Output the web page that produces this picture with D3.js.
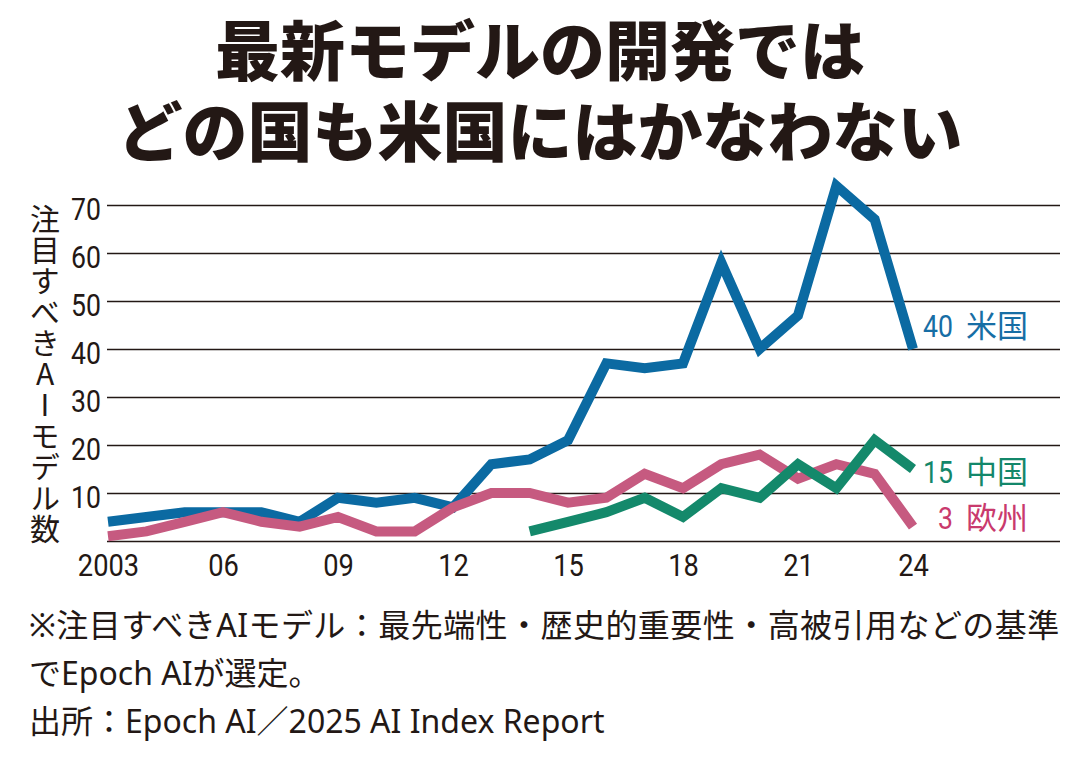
<!DOCTYPE html>
<html>
<head>
<meta charset="utf-8">
<script src="https://cdn.jsdelivr.net/npm/d3@7"></script>
<style>
  html, body { margin: 0; padding: 0; background: #fff; }
  #wrap { position: relative; width: 1080px; height: 759px; }
  svg { display: block; position: absolute; left: 0; top: 0; }
  #title { position: absolute; left: 0; top: 7px; width: 1080px; text-align: center;
           font-family: "Noto Sans CJK JP", sans-serif; font-weight: 900; font-size: 65px;
           line-height: 81px; white-space: pre; color: #231815; }
  .note { font-family: "Noto Sans", "Noto Sans CJK JP", sans-serif; font-size: 32px; fill: #231815; }
  .num { font-family: Roboto, "Liberation Sans", sans-serif; font-size: 31px; }
  .grid line { stroke: #231815; stroke-width: 1.3; }
  .grid text, .xaxis text { font-family: Roboto, "Liberation Sans", sans-serif; font-size: 31px; fill: #231815; }
  .ylabel { font-family: "Noto Sans CJK JP", sans-serif; font-size: 30px; fill: #231815;
            writing-mode: vertical-rl; text-orientation: upright; letter-spacing: 1px; }
  .name { font-family: "Noto Sans CJK JP", sans-serif; font-size: 31px; }
</style>
</head>
<body>
<div id="wrap">
  <svg id="chart" width="1080" height="759"></svg>
  <div id="title"></div>
</div>
<script>
// notable AI models per year (Epoch AI)
var years = [2003, 2004, 2005, 2006, 2007, 2008, 2009, 2010, 2011, 2012, 2013,
             2014, 2015, 2016, 2017, 2018, 2019, 2020, 2021, 2022, 2023, 2024];
var usModels = [4, 5, 6, 6, 6, 4, 9, 8, 9, 7, 16,
                17, 21, 37, 36, 37, 58, 40, 47, 74, 67, 40];
var chinaModels = [null, null, null, null, null, null, null, null, null, null, null,
                   2, 4, 6, 9, 5, 11, 9, 16, 11, 21, 15];
var europeModels = [1, 2, 4, 6, 4, 3, 5, 2, 2, 7, 10,
                    10, 8, 9, 14, 11, 16, 18, 13, 16, 14, 3];

var xTicks = [2003, 2006, 2009, 2012, 2015, 2018, 2021, 2024];
var xTickLabels = ["2003", "06", "09", "12", "15", "18", "21", "24"];
var yTicks = [0, 10, 20, 30, 40, 50, 60, 70];

var titleLines = ["最新モデルの開発では", "どの国も米国にはかなわない"];
var yLabel = "注目すべきAIモデル数";
var notes = [
  "※注目すべきAIモデル：最先端性・歴史的重要性・高被引用などの基準",
  "でEpoch AIが選定。",
  "出所：Epoch AI／2025 AI Index Report"
];

var series = [
  {name: "米国", values: usModels, line: "#0b6aa2", text: "#176ea5", dy: -23},
  {name: "欧州", values: europeModels, line: "#c65a80", text: "#c93a6d", dy: -9},
  {name: "中国", values: chinaModels, line: "#14896b", text: "#13876a", dy: 3}
];

// title: one text block, two lines
d3.select("#title").text(titleLines.join("\n"));

var svg = d3.select("#chart");

var x = d3.scaleLinear().domain([2003, 2024]).range([108, 913]);
var y = d3.scaleLinear().domain([0, 70]).range([541, 205]);

// gridlines + y tick labels
var grid = svg.append("g")
    .attr("class", "grid")
    .attr("transform", "translate(107,0)")
    .call(d3.axisLeft(y)
      .tickValues(yTicks)
      .tickSize(-(1060 - 107))
      .tickPadding(7)
      .tickFormat(d => d === 0 ? "" : d));
grid.select(".domain").remove();
grid.selectAll("text")
    .attr("dy", "0.46em")
    .attr("transform", "scale(0.86,1)");

// x axis labels only
var xaxis = svg.append("g")
    .attr("class", "xaxis")
    .attr("transform", "translate(0,541)")
    .call(d3.axisBottom(x)
      .tickValues(xTicks)
      .tickSize(0)
      .tickPadding(13)
      .tickFormat((d, i) => xTickLabels[i]));
xaxis.select(".domain").remove();
xaxis.selectAll("text").attr("transform", "scale(0.88,1)");

// y axis title, stacked vertically
svg.append("text")
    .attr("class", "ylabel")
    .attr("x", 45)
    .attr("y", 204)
    .text(yLabel);

// lines
var line = d3.line()
    .defined(d => d != null)
    .x((d, i) => x(years[i]))
    .y(d => y(d));

svg.selectAll("path.series")
  .data(series)
  .enter().append("path")
    .attr("class", "series")
    .attr("fill", "none")
    .attr("stroke", d => d.line)
    .attr("stroke-width", 10)
    .attr("stroke-linejoin", "miter")
    .attr("d", d => line(d.values));

// end labels
series.forEach(s => {
  var last = s.values[s.values.length - 1];
  var cy = y(last) + s.dy + 11;
  svg.append("text")
      .attr("class", "num")
      .attr("text-anchor", "end")
      .attr("fill", s.text)
      .attr("transform", "translate(953," + cy + ") scale(0.86,1)")
      .text(last);
  svg.append("text")
      .attr("class", "name")
      .attr("x", 966)
      .attr("y", cy)
      .attr("fill", s.text)
      .text(s.name);
});

// footnotes
svg.selectAll("text.note")
  .data(notes)
  .enter().append("text")
    .attr("class", "note")
    .attr("x", 29)
    .attr("y", (d, i) => 637 + i * 48)
    .attr("letter-spacing", (d, i) => i === 0 ? 0.45 : 0)
    .text(d => d);
</script>
</body>
</html>
